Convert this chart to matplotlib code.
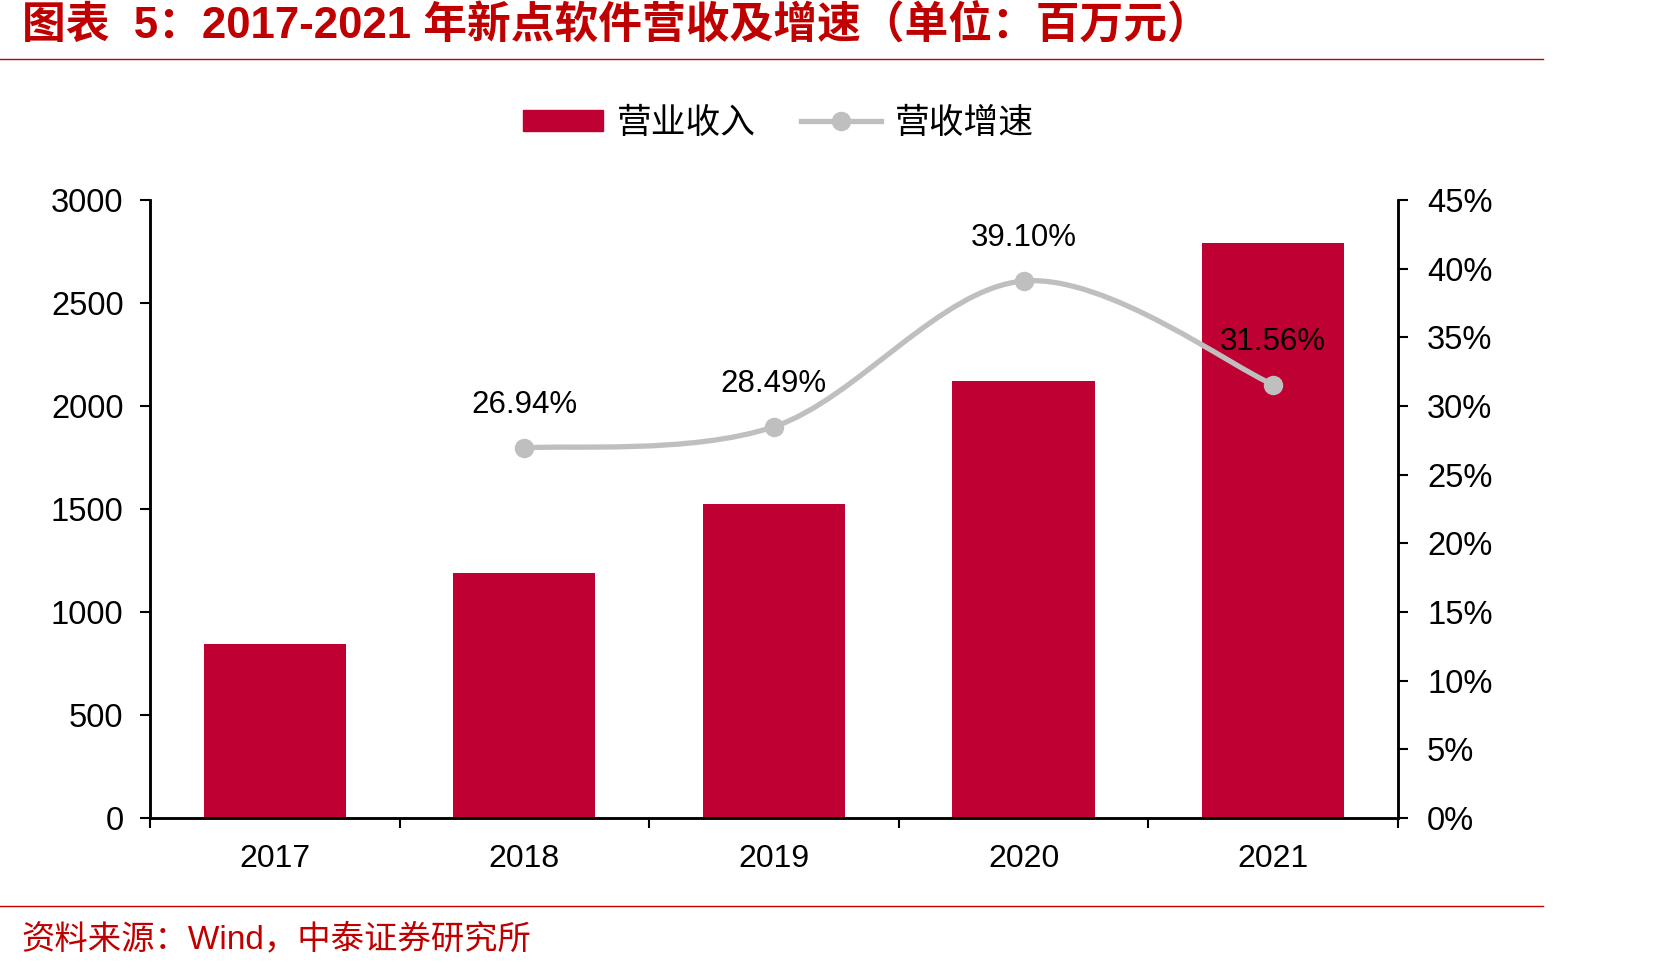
import matplotlib
matplotlib.use("Agg")
import matplotlib.pyplot as plt
from matplotlib.path import Path
from matplotlib.patches import PathPatch
from matplotlib.lines import Line2D
from matplotlib.patches import Patch

plt.rcParams['font.family'] = ['Liberation Sans', 'Noto Sans CJK SC', 'DejaVu Sans']

years = ['2017', '2018', '2019', '2020', '2021']
revenue = [846, 1188, 1526, 2123, 2792]          # 百万元
growth_years = ['2018', '2019', '2020', '2021']
growth = [26.94, 28.49, 39.10, 31.56]            # %

bar_color = '#BE0032'
line_color = '#BFBFBF'
red = '#C00000'

fig = plt.figure(figsize=(16.77, 9.71), dpi=100)
ax = fig.add_axes([0.0894, 0.1576, 0.7442, 0.6364])
ax2 = ax.twinx()

x = list(range(len(years)))
ax.bar(x, revenue, width=0.57, color=bar_color, zorder=2)
ax.set_xlim(-0.5, len(years) - 0.5)
ax.set_ylim(0, 3000)
ax.set_yticks(range(0, 3001, 500))
ax.set_xticks(x)
ax.set_xticklabels(years)
ax.set_xticks([i + 0.5 for i in range(-1, len(years))], minor=True)
ax.tick_params(axis='x', which='major', length=0, pad=19, labelsize=23)
ax.tick_params(axis='x', which='minor', length=7, width=1.5, direction='out')
ax.tick_params(axis='y', length=7, width=1.5, labelsize=23.5, pad=12)

for s in ['top']:
    ax.spines[s].set_visible(False)
    ax2.spines[s].set_visible(False)
for a in (ax, ax2):
    for s in ['left', 'right', 'bottom']:
        a.spines[s].set_linewidth(1.8)

ax2.set_ylim(0, 45)
ax2.set_yticks(range(0, 46, 5))
ax2.set_yticklabels([f'{v}%' for v in range(0, 46, 5)])
ax2.tick_params(axis='y', length=7, width=1.5, labelsize=23.5, pad=14)

# smoothed growth line (Catmull-Rom -> cubic Bezier)
gx = [years.index(y) for y in growth_years]
pts = list(zip(gx, growth))
verts = [pts[0]]
codes = [Path.MOVETO]
n = len(pts)
for i in range(n - 1):
    p0 = pts[i - 1] if i > 0 else pts[i]
    p1 = pts[i]
    p2 = pts[i + 1]
    p3 = pts[i + 2] if i + 2 < n else pts[i + 1]
    c1 = (p1[0] + (p2[0] - p0[0]) / 6, p1[1] + (p2[1] - p0[1]) / 6)
    c2 = (p2[0] - (p3[0] - p1[0]) / 6, p2[1] - (p3[1] - p1[1]) / 6)
    verts += [c1, c2, p2]
    codes += [Path.CURVE4] * 3
ax2.add_patch(PathPatch(Path(verts, codes), facecolor='none',
                        edgecolor=line_color, lw=3.8, zorder=3))
ax2.plot(gx, growth, 'o', color=line_color, markersize=13, zorder=4)
for xi, g in zip(gx, growth):
    ax2.annotate(f'{g:.2f}%', (xi, g), xytext=(0, 20), textcoords='offset points',
                 ha='center', va='bottom', fontsize=22.5, zorder=5)

# legend
handles = [Patch(color=bar_color),
           Line2D([], [], color=line_color, lw=3.8, marker='o', markersize=13)]
fig.legend(handles, ['营业收入', '营收增速'], loc='center', bbox_to_anchor=(0.464, 0.873),
           ncol=2, frameon=False, handlelength=2.3, handleheight=0.55,
           columnspacing=1.3, handletextpad=0.4,
           prop={'family': ['Noto Sans CJK SC'], 'size': 25})

# title / source
fig.text(0.013, 0.974, '图表  5：2017-2021 年新点软件营收及增速（单位：百万元）',
         color=red, fontsize=31.5, fontweight='bold', va='center',
         family=['Liberation Sans', 'Noto Sans CJK SC'])
fig.add_artist(Line2D([0, 0.92], [0.939, 0.939], color=red, lw=1))
fig.add_artist(Line2D([0, 0.92], [0.067, 0.067], color=red, lw=1))
fig.text(0.013, 0.032, '资料来源：Wind，中泰证券研究所', color=red, fontsize=24,
         va='center', family=['Liberation Sans', 'Noto Sans CJK SC'])

fig.savefig('out.png', dpi=100)
